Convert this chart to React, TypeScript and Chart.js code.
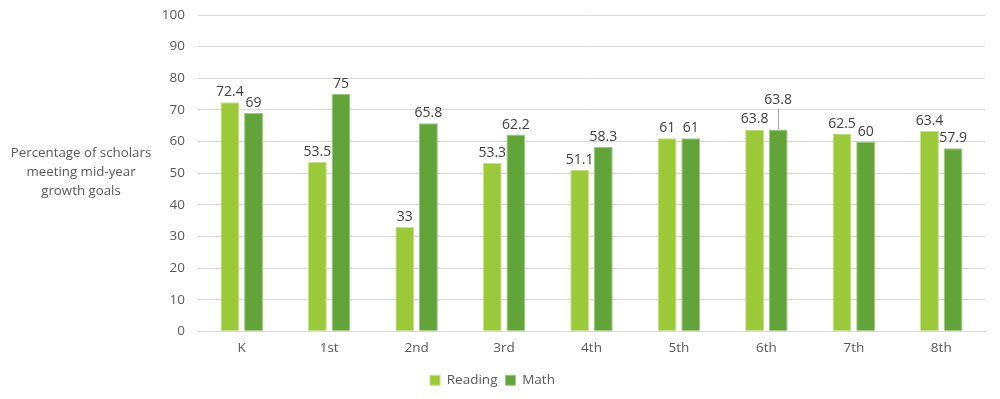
import React, { useEffect, useRef } from "react";
import { Chart, registerables } from "chart.js";

Chart.register(...registerables);

const categories = ["K", "1st", "2nd", "3rd", "4th", "5th", "6th", "7th", "8th"];
const readingValues = [72.4, 53.5, 33, 53.3, 51.1, 61, 63.8, 62.5, 63.4];
const mathValues = [69, 75, 65.8, 62.2, 58.3, 61, 63.8, 60, 57.9];
const yTitleLines = ["Percentage of scholars", "meeting mid-year", "growth goals"];

const FONT = "'Open Sans', 'Liberation Sans', sans-serif";

const valueLabelPlugin = {
  id: "valueLabels",
  afterDatasetsDraw(chart: any) {
    const ctx = chart.ctx;
    ctx.save();
    ctx.font = `14px ${FONT}`;
    ctx.fillStyle = "#404040";
    ctx.textAlign = "center";
    ctx.textBaseline = "bottom";
    chart.data.datasets.forEach((ds: any, di: number) => {
      const meta = chart.getDatasetMeta(di);
      meta.data.forEach((bar: any, i: number) => {
        const v = ds.data[i];
        const isOffset = di === 1 && categories[i] === "6th";
        if (isOffset) {
          ctx.strokeStyle = "#a6a6a6";
          ctx.lineWidth = 1;
          ctx.beginPath();
          ctx.moveTo(Math.round(bar.x) + 0.5, bar.y);
          ctx.lineTo(Math.round(bar.x) + 0.5, bar.y - 21);
          ctx.stroke();
          ctx.fillText(String(v), bar.x, bar.y - 22);
        } else {
          ctx.fillText(String(v), bar.x, bar.y - 3);
        }
      });
    });
    ctx.restore();
  },
};

const yTitlePlugin = {
  id: "yTitle",
  afterDraw(chart: any) {
    const ctx = chart.ctx;
    ctx.save();
    ctx.font = `13.3px ${FONT}`;
    ctx.fillStyle = "#595959";
    ctx.textAlign = "center";
    ctx.textBaseline = "middle";
    const cx = 81;
    const cy = 172;
    const lh = 19;
    yTitleLines.forEach((line, i) => {
      ctx.fillText(line, cx, cy + (i - 1) * lh);
    });
    ctx.restore();
  },
};

export default function App() {
  const ref = useRef<HTMLCanvasElement>(null);
  useEffect(() => {
    document.body.style.margin = "0";
    const chart = new Chart(ref.current as HTMLCanvasElement, {
      type: "bar",
      data: {
        labels: categories,
        datasets: [
          {
            label: "Reading",
            data: readingValues,
            backgroundColor: "#9BC93A",
            borderColor: "#C5E38A",
            borderWidth: 1,
            categoryPercentage: 0.54,
            barPercentage: 0.8,
          },
          {
            label: "Math",
            data: mathValues,
            backgroundColor: "#62A43A",
            borderColor: "#9CCB7C",
            borderWidth: 1,
            categoryPercentage: 0.54,
            barPercentage: 0.8,
          },
        ],
      },
      options: {
        animation: false,
        responsive: false,
        maintainAspectRatio: false,
        layout: { padding: { left: 0, right: 15, top: 15, bottom: 2 } },
        plugins: {
          tooltip: { enabled: false },
          legend: {
            position: "bottom",
            labels: {
              boxWidth: 10,
              boxHeight: 10,
              color: "#595959",
              font: { family: FONT, size: 13.5 },
              padding: 8,
            },
          },
        },
        scales: {
          x: {
            grid: { display: false, drawTicks: false },
            border: { color: "#d9d9d9" },
            ticks: { color: "#595959", font: { family: FONT, size: 13.5 }, padding: 9 },
          },
          y: {
            min: 0,
            max: 100,
            ticks: { stepSize: 10, color: "#595959", font: { family: FONT, size: 13.5 }, padding: 13 },
            grid: { color: "#d9d9d9", drawTicks: false },
            border: { display: false },
            afterFit(scale: any) {
              scale.width = 198;
              scale.paddingTop = 0;
              scale.paddingBottom = 0;
            },
          },
        },
      },
      plugins: [valueLabelPlugin, yTitlePlugin],
    });
    return () => chart.destroy();
  }, []);
  return (
    <div style={{ position: "absolute", left: 0, top: 0, width: 1000, height: 399, background: "#fff" }}>
      <canvas ref={ref} width={1000} height={399} style={{ width: 1000, height: 399 }} />
    </div>
  );
}
